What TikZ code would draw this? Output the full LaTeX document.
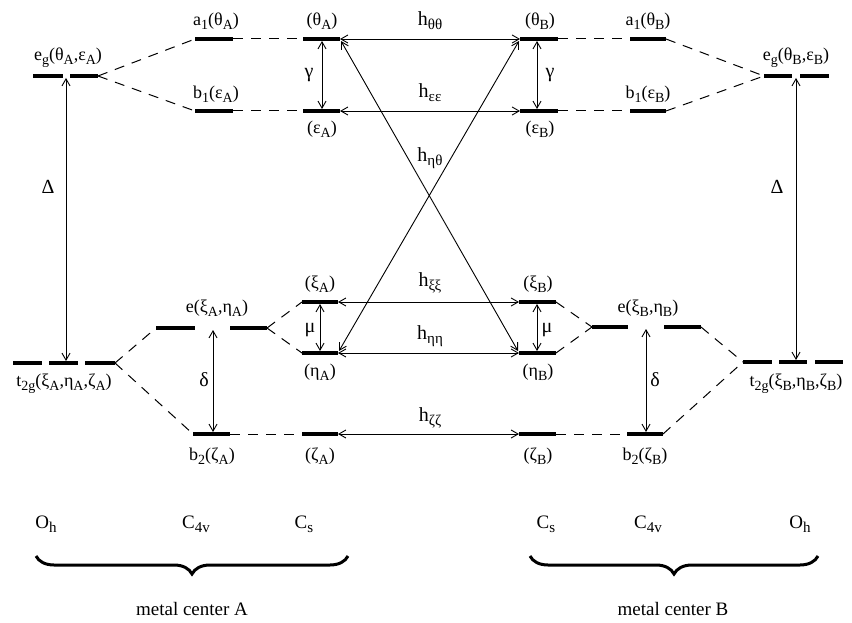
\documentclass[tikz,border=0pt]{standalone}
\usepackage{fontspec}
\setmainfont{Liberation Serif}
\usetikzlibrary{arrows.meta,decorations.pathreplacing}
\newcommand\lo[1]{\raisebox{-0.45ex}{\fontsize{14}{14}\selectfont #1}}
\newcommand\loh[1]{\raisebox{-0.45ex}{\fontsize{15}{15}\selectfont #1}}
\begin{document}
\begin{tikzpicture}[x=1pt,y=-1pt,
  lvl/.style={line width=4.2pt},
  dsh/.style={line width=1pt, dash pattern=on 10pt off 8pt},
  arr/.style={line width=0.9pt, {Straight Barb[length=7pt,width=8pt]}-{Straight Barb[length=7pt,width=8pt]}},
  lab/.style={inner sep=0pt, font=\fontsize{18}{18}\selectfont},
  hlab/.style={inner sep=0pt, font=\fontsize{20}{20}\selectfont},
  grp/.style={inner sep=0pt, font=\fontsize{19}{19}\selectfont},
  brc/.style={decorate, decoration={brace, mirror, amplitude=18pt}, line width=3pt}]
\useasboundingbox (0,0) rectangle (852,623);
% ---- coordinates of level ends
\coordinate (egAa) at (33,76);  \coordinate (egAb) at (63,76);
\coordinate (egAc) at (70,76);  \coordinate (egAd) at (98,76);
\coordinate (a1Al) at (195,39); \coordinate (a1Ar) at (233,39);
\coordinate (b1Al) at (195,111);\coordinate (b1Ar) at (233,111);
\coordinate (thAl) at (303,39); \coordinate (thAr) at (340,39);
\coordinate (epAl) at (303,111);\coordinate (epAr) at (340,111);
\coordinate (thBl) at (520,39); \coordinate (thBr) at (558,39);
\coordinate (epBl) at (520,111);\coordinate (epBr) at (558,111);
\coordinate (a1Bl) at (630,39); \coordinate (a1Br) at (666,39);
\coordinate (b1Bl) at (630,111);\coordinate (b1Br) at (666,111);
\coordinate (egBa) at (764,76); \coordinate (egBb) at (792,76);
\coordinate (egBc) at (800,76); \coordinate (egBd) at (829,76);
\coordinate (xiAl) at (302,302); \coordinate (xiAr) at (338,302);
\coordinate (etAl) at (302,353); \coordinate (etAr) at (338,353);
\coordinate (zeAl) at (302,434); \coordinate (zeAr) at (338,434);
\coordinate (xiBl) at (519,302); \coordinate (xiBr) at (556,302);
\coordinate (etBl) at (519,353); \coordinate (etBr) at (556,353);
\coordinate (zeBl) at (519,434); \coordinate (zeBr) at (556,434);
\coordinate (eAa) at (156,328); \coordinate (eAb) at (195,328);
\coordinate (eAc) at (230,328); \coordinate (eAd) at (267,328);
\coordinate (b2Al) at (193,434); \coordinate (b2Ar) at (230,434);
\coordinate (tAa) at (13,363); \coordinate (tAb) at (42,363);
\coordinate (tAc) at (49,363); \coordinate (tAd) at (78,363);
\coordinate (tAe) at (85,363); \coordinate (tAf) at (115,363);
\coordinate (eBa) at (592,327); \coordinate (eBb) at (628,327);
\coordinate (eBc) at (664,327); \coordinate (eBd) at (701,327);
\coordinate (b2Bl) at (627,434); \coordinate (b2Br) at (663,434);
\coordinate (tBa) at (743,362); \coordinate (tBb) at (772,362);
\coordinate (tBc) at (779,362); \coordinate (tBd) at (807,362);
\coordinate (tBe) at (815,362); \coordinate (tBf) at (843,362);
% ---- levels
\foreach \p/\q in {egAa/egAb,egAc/egAd,a1Al/a1Ar,b1Al/b1Ar,thAl/thAr,epAl/epAr,
  thBl/thBr,epBl/epBr,a1Bl/a1Br,b1Bl/b1Br,egBa/egBb,egBc/egBd,
  xiAl/xiAr,etAl/etAr,zeAl/zeAr,xiBl/xiBr,etBl/etBr,zeBl/zeBr,
  eAa/eAb,eAc/eAd,b2Al/b2Ar,tAa/tAb,tAc/tAd,tAe/tAf,
  eBa/eBb,eBc/eBd,b2Bl/b2Br,tBa/tBb,tBc/tBd,tBe/tBf}
  \draw[lvl] (\p) -- (\q);
% ---- correlation dashes
\foreach \p/\q in {egAd/a1Al,egAd/b1Al,a1Ar/thAl,b1Ar/epAl,thBr/a1Bl,epBr/b1Bl,
  a1Br/egBa,b1Br/egBa,tAf/eAa,tAf/b2Al,eAd/xiAl,eAd/etAl,b2Ar/zeAl,
  xiBr/eBa,etBr/eBa,zeBr/b2Bl,eBd/tBa,b2Br/tBa}
  \draw[dsh] (\p) -- (\q);
% ---- arrows
\coordinate (DAt) at (66,78);  \coordinate (DAb) at (66,361);
\coordinate (DBt) at (796,78); \coordinate (DBb) at (796,360);
\coordinate (gAt) at (322,41); \coordinate (gAb) at (322,109);
\coordinate (gBt) at (537,41); \coordinate (gBb) at (537,109);
\coordinate (mAt) at (320,304); \coordinate (mAb) at (320,351);
\coordinate (mBt) at (537,304); \coordinate (mBb) at (537,351);
\coordinate (dAt) at (213,330); \coordinate (dAb) at (213,432);
\coordinate (dBt) at (646,329); \coordinate (dBb) at (646,432);
\coordinate (cAt) at (341,41); \coordinate (cAb) at (339,351);
\coordinate (cBt) at (519,41); \coordinate (cBb) at (518,351);
\foreach \p/\q in {DAt/DAb,DBt/DBb,gAt/gAb,gBt/gBb,mAt/mAb,mBt/mBb,dAt/dAb,dBt/dBb,
  thAr/thBl,epAr/epBl,xiAr/xiBl,etAr/etBl,zeAr/zeBl,cAt/cBb,cBt/cAb}
  \draw[arr] (\p) -- (\q);
% ---- labels
\node[lab] (LegA) at (68,58) {e\lo{g}(θ\lo{A},ε\lo{A})};
\node[hlab] (LDA) at (48,187) {Δ};
\node[lab] (La1A) at (216,21) {a\lo{1}(θ\lo{A})};
\node[lab] (Lb1A) at (216,94) {b\lo{1}(ε\lo{A})};
\node[lab] (LthA) at (322,21) {(θ\lo{A})};
\node[lab] (LepA) at (322,129) {(ε\lo{A})};
\node[hlab] (LgA) at (309,75) {γ};
\node[hlab] (Lhtt) at (430,21) {h\loh{θθ}};
\node[hlab] (Lhee) at (430,93) {h\loh{εε}};
\node[lab] (LthB) at (540,21) {(θ\lo{B})};
\node[lab] (LepB) at (540,129) {(ε\lo{B})};
\node[hlab] (LgB) at (550,75) {γ};
\node[lab] (La1B) at (648,21) {a\lo{1}(θ\lo{B})};
\node[lab] (Lb1B) at (648,94) {b\lo{1}(ε\lo{B})};
\node[lab] (LegB) at (796,58) {e\lo{g}(θ\lo{B},ε\lo{B})};
\node[hlab] (LDB) at (777,187) {Δ};
\node[hlab] (Lhet) at (430,158) {h\loh{ηθ}};
\node[lab] (LxiA) at (320,284) {(ξ\lo{A})};
\node[lab] (LetA) at (320,372) {(η\lo{A})};
\node[hlab] (LmA) at (310,330) {μ};
\node[hlab] (Lhxx) at (430,283) {h\loh{ξξ}};
\node[hlab] (Lhhh) at (430,336) {h\loh{ηη}};
\node[lab] (LxiB) at (538,284) {(ξ\lo{B})};
\node[lab] (LetB) at (538,372) {(η\lo{B})};
\node[hlab] (LmB) at (547,330) {μ};
\node[lab] (LeA) at (217,308) {e(ξ\lo{A},η\lo{A})};
\node[lab] (LtA) at (64,384) {t\lo{2g}(ξ\lo{A},η\lo{A},ζ\lo{A})};
\node[hlab] (LdA) at (204,380) {δ};
\node[lab] (Lb2A) at (212,456) {b\lo{2}(ζ\lo{A})};
\node[lab] (LzeA) at (320,456) {(ζ\lo{A})};
\node[hlab] (Lhzz) at (430,418) {h\loh{ζζ}};
\node[lab] (LzeB) at (538,456) {(ζ\lo{B})};
\node[lab] (Lb2B) at (645,456) {b\lo{2}(ζ\lo{B})};
\node[hlab] (LdB) at (655,380) {δ};
\node[lab] (LeB) at (648,308) {e(ξ\lo{B},η\lo{B})};
\node[lab] (LtB) at (796,384) {t\lo{2g}(ξ\lo{B},η\lo{B},ζ\lo{B})};
% ---- point groups
\node[grp] (OhA) at (46,524) {O\loh{h}};
\node[grp] (C4A) at (196,524) {C\loh{4v}};
\node[grp] (CsA) at (304,524) {C\loh{s}};
\node[grp] (CsB) at (546,524) {C\loh{s}};
\node[grp] (C4B) at (648,524) {C\loh{4v}};
\node[grp] (OhB) at (800,524) {O\loh{h}};
\coordinate (brAl) at (36,556); \coordinate (brAr) at (348,556);
\coordinate (brBl) at (530,556); \coordinate (brBr) at (818,556);
\draw[brc] (brAl) -- (brAr);
\draw[brc] (brBl) -- (brBr);
\node[grp] (mcA) at (192,609) {metal center A};
\node[grp] (mcB) at (673,609) {metal center B};
\end{tikzpicture}
\end{document}
